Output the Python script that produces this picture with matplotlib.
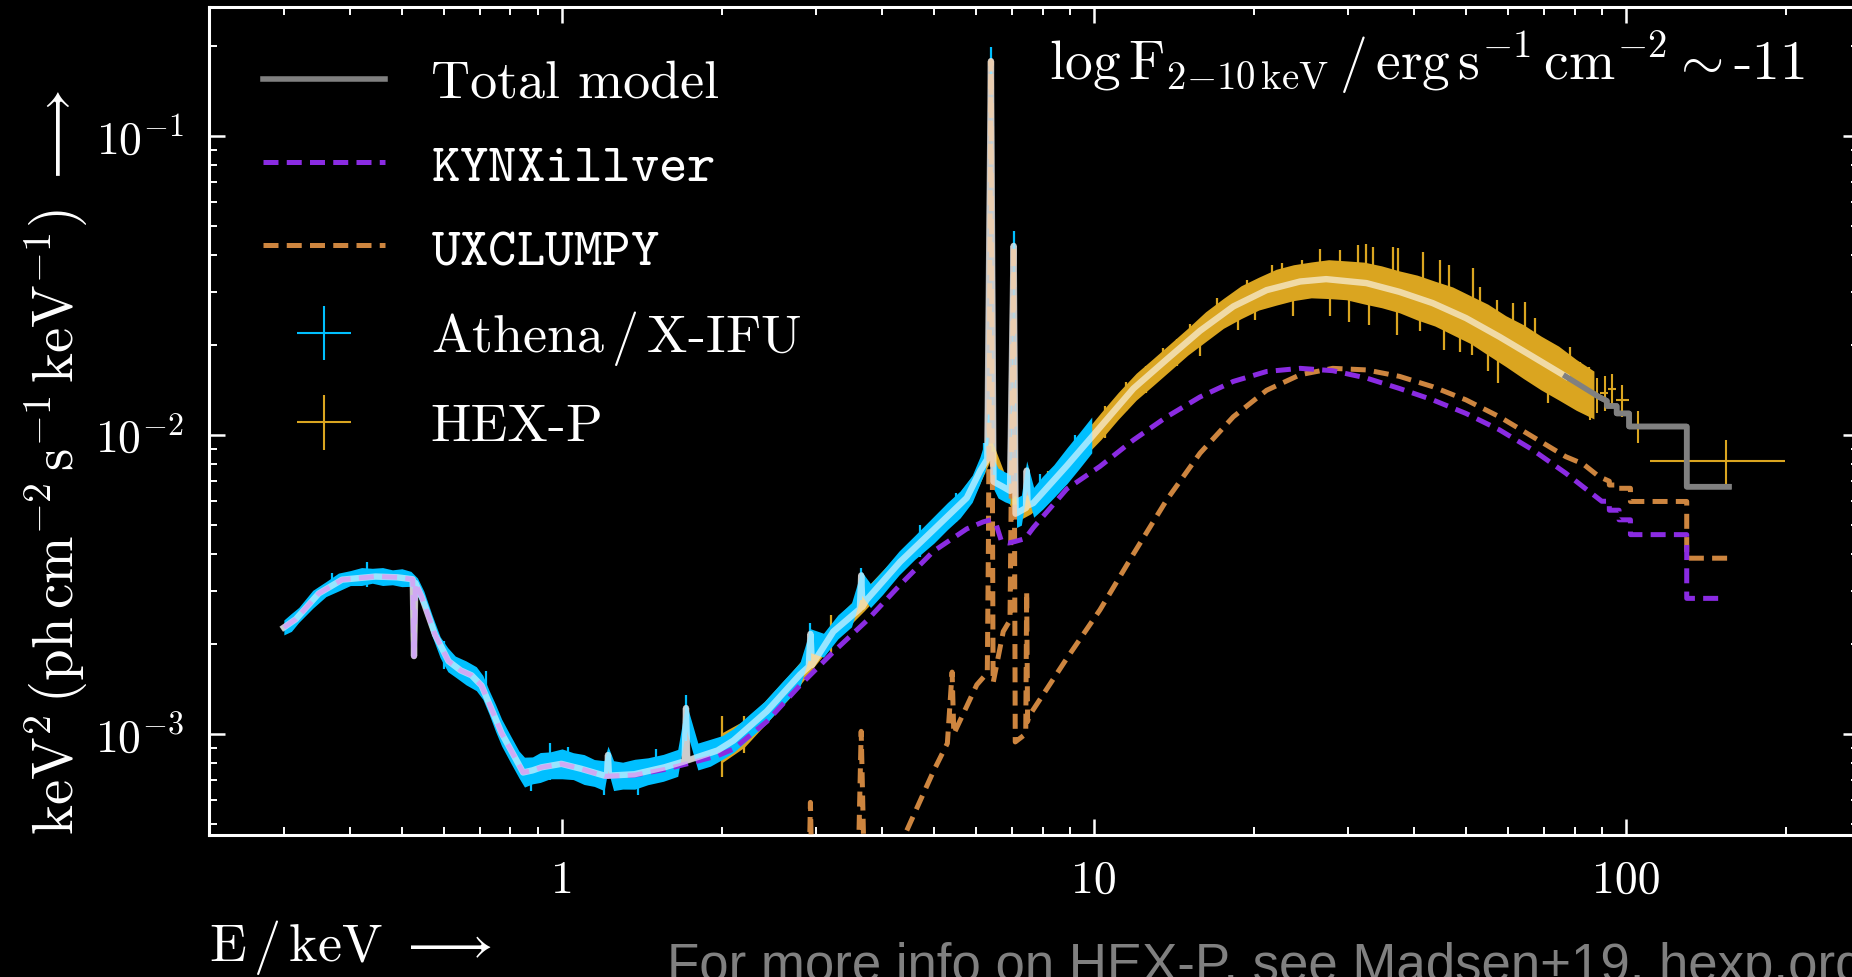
import numpy as np
import matplotlib
matplotlib.use('Agg')
import matplotlib.pyplot as plt

plt.rcParams['font.family'] = 'cmr10'
plt.rcParams['mathtext.fontset'] = 'cm'
plt.rcParams['axes.unicode_minus'] = False

# total model (keV, keV^2 ph cm^-2 s^-1 keV^-1)
tot_E = [0.300, 0.316, 0.349, 0.386, 0.446, 0.490, 0.524, 0.527, 0.530, 0.545, 0.577, 0.612,
         0.645, 0.676, 0.706, 0.737, 0.770, 0.815, 0.845, 0.880, 0.915, 0.997, 1.087, 1.202,
         1.215, 1.22, 1.225, 1.368, 1.557, 1.70, 1.71, 1.72, 1.96, 2.10, 2.426, 2.802, 2.91,
         2.93, 2.95, 3.236, 3.63, 3.65, 3.67, 3.738, 4.318, 4.989, 5.764, 6.107, 6.30, 6.40,
         6.47, 6.75, 6.95, 7.06, 7.12, 7.45, 7.47, 7.50, 7.69, 8.89, 10.26, 11.86, 13.70,
         15.82, 18.27, 21.1, 24.4, 27.3, 32.5, 37.5, 43.3, 50.0, 57.8, 66.7, 77.0, 88.9,
         92.0, 92.0, 96.0, 96.0, 101.3, 101.3, 130.0, 130.0, 156.0]
tot_F = [2.27e-3, 2.42e-3, 2.95e-3, 3.28e-3, 3.36e-3, 3.34e-3, 3.29e-3, 1.82e-3, 3.20e-3,
         2.87e-3, 2.15e-3, 1.75e-3, 1.63e-3, 1.57e-3, 1.45e-3, 1.21e-3, 1.005e-3, 8.36e-4,
         7.43e-4, 7.55e-4, 7.73e-4, 7.94e-4, 7.64e-4, 7.25e-4, 7.25e-4, 8.5e-4, 7.25e-4,
         7.33e-4, 7.73e-4, 8.1e-4, 1.22e-3, 8.15e-4, 8.8e-4, 9.5e-4, 1.19e-3, 1.58e-3,
         1.68e-3, 2.16e-3, 1.70e-3, 2.20e-3, 2.62e-3, 3.39e-3, 2.66e-3, 2.81e-3, 3.76e-3,
         4.81e-3, 6.16e-3, 7.58e-3, 8.3e-3, 0.178, 6.98e-3, 6.70e-3, 6.5e-3, 0.0429, 5.45e-3,
         5.7e-3, 7.6e-3, 5.8e-3, 5.92e-3, 7.89e-3, 1.06e-2, 1.43e-2, 1.79e-2, 2.23e-2, 2.69e-2,
         3.05e-2, 3.26e-2, 3.32e-2, 3.22e-2, 3.01e-2, 2.76e-2, 2.46e-2, 2.13e-2, 1.83e-2,
         1.57e-2, 1.34e-2, 1.30e-2, 1.25e-2, 1.25e-2, 1.18e-2, 1.18e-2, 1.067e-2, 1.067e-2,
         6.71e-3, 6.71e-3]

# KYNXillver component
kyn_E = [0.300, 0.316, 0.349, 0.386, 0.446, 0.490, 0.524, 0.527, 0.530, 0.545, 0.577, 0.612,
         0.645, 0.676, 0.706, 0.737, 0.770, 0.815, 0.845, 0.880, 0.915, 0.997, 1.087, 1.202,
         1.368, 1.557, 1.747, 1.96, 2.10, 2.426, 2.802, 3.236, 3.738, 4.318, 4.989, 5.764,
         6.19, 6.40, 6.55, 6.70, 6.90, 7.10, 7.42, 7.69, 8.89, 10.26, 11.86, 13.70, 15.82,
         18.27, 21.1, 24.4, 28.1, 32.5, 37.5, 43.3, 50.0, 57.8, 66.7, 77.0, 83.0, 90.0, 93.0,
         93.0, 97.0, 97.0, 101.9, 101.9, 130.0, 130.0, 153.0]
kyn_F = [2.27e-3, 2.42e-3, 2.95e-3, 3.28e-3, 3.36e-3, 3.34e-3, 3.29e-3, 1.82e-3, 3.20e-3,
         2.87e-3, 2.15e-3, 1.75e-3, 1.63e-3, 1.57e-3, 1.45e-3, 1.21e-3, 1.005e-3, 8.36e-4,
         7.43e-4, 7.55e-4, 7.73e-4, 7.94e-4, 7.64e-4, 7.22e-4, 7.28e-4, 7.6e-4, 8.0e-4,
         8.45e-4, 8.9e-4, 1.10e-3, 1.455e-3, 1.88e-3, 2.39e-3, 3.15e-3, 4.08e-3, 4.85e-3,
         5.12e-3, 5.2e-3, 5.0e-3, 4.4e-3, 4.35e-3, 4.4e-3, 4.5e-3, 4.9e-3, 6.6e-3, 7.85e-3,
         9.62e-3, 1.15e-2, 1.34e-2, 1.51e-2, 1.63e-2, 1.67e-2, 1.64e-2, 1.55e-2, 1.43e-2,
         1.31e-2, 1.18e-2, 1.04e-2, 8.92e-3, 7.45e-3, 6.71e-3, 6.0e-3, 6.0e-3, 5.6e-3, 5.6e-3,
         5.2e-3, 5.2e-3, 4.64e-3, 4.64e-3, 2.84e-3, 2.84e-3]

# UXCLUMPY component
uxc_E = [2.50, 2.90, 2.93, 2.96, 3.60, 3.65, 3.70, 4.41, 4.99, 5.30, 5.41, 5.45, 6.02, 6.30,
         6.33, 6.40, 6.46, 6.75, 6.95, 7.06, 7.11, 7.44, 7.47, 7.50, 7.53, 8.89, 10.26, 11.86,
         13.70, 15.82, 18.27, 21.1, 24.4, 28.1, 32.5, 37.5, 43.3, 50.0, 57.8, 66.7, 77.0, 83.0,
         88.9, 93.0, 93.0, 97.0, 97.0, 101.9, 101.9, 130.0, 130.0, 155.0]
uxc_F = [1.8e-4, 2.3e-4, 5.9e-4, 2.4e-4, 3.3e-4, 1.02e-3, 3.4e-4, 4.6e-4, 7.5e-4, 9.3e-4,
         1.61e-3, 1.0e-3, 1.46e-3, 1.6e-3, 4.3e-3, 0.178, 1.48e-3, 2.2e-3, 2.4e-3, 0.0429,
         9.4e-4, 1.0e-3, 3.0e-3, 1.1e-3, 1.14e-3, 1.79e-3, 2.6e-3, 4.0e-3, 6.07e-3, 8.69e-3,
         1.15e-2, 1.41e-2, 1.59e-2, 1.67e-2, 1.65e-2, 1.57e-2, 1.45e-2, 1.31e-2, 1.15e-2,
         9.87e-3, 8.46e-3, 8.0e-3, 7.26e-3, 7.0e-3, 6.8e-3, 6.8e-3, 6.63e-3, 6.63e-3, 5.99e-3,
         5.99e-3, 3.87e-3, 3.87e-3]

# Athena / X-IFU data: value and error half-width (dex)
ath_E = [0.30, 0.31, 0.32, 0.34, 0.36, 0.38, 0.40, 0.42, 0.44, 0.46, 0.48, 0.50, 0.52, 0.535,
         0.55, 0.57, 0.59, 0.61, 0.63, 0.66, 0.69, 0.71, 0.73, 0.75, 0.77, 0.80, 0.83, 0.85,
         0.88, 0.91, 0.95, 1.0, 1.05, 1.1, 1.15, 1.2, 1.22, 1.25, 1.3, 1.37, 1.45, 1.55, 1.65,
         1.71, 1.8, 1.9, 2.0, 2.1, 2.25, 2.4, 2.6, 2.8, 2.93, 3.1, 3.3, 3.5, 3.65, 3.8, 4.0,
         4.3, 4.6, 5.0, 5.3, 5.6, 5.9, 6.1, 6.25, 6.35, 6.40, 6.45, 6.6, 6.8, 6.95, 7.06, 7.15,
         7.3, 7.47, 7.7, 8.0, 8.4, 8.9, 9.4, 9.9]
ath_F = [2.27e-3, 2.36e-3, 2.50e-3, 2.82e-3, 3.05e-3, 3.22e-3, 3.32e-3, 3.36e-3, 3.38e-3,
         3.36e-3, 3.34e-3, 3.33e-3, 3.30e-3, 3.1e-3, 2.8e-3, 2.3e-3, 1.95e-3, 1.77e-3, 1.68e-3,
         1.60e-3, 1.53e-3, 1.43e-3, 1.27e-3, 1.13e-3, 1.01e-3, 8.9e-4, 7.9e-4, 7.45e-4,
         7.55e-4, 7.72e-4, 7.85e-4, 7.94e-4, 7.8e-4, 7.6e-4, 7.4e-4, 7.25e-4, 8.3e-4, 7.25e-4,
         7.25e-4, 7.33e-4, 7.5e-4, 7.7e-4, 8.0e-4, 1.15e-3, 8.4e-4, 8.65e-4, 9.0e-4, 9.5e-4,
         1.06e-3, 1.17e-3, 1.37e-3, 1.58e-3, 2.05e-3, 1.98e-3, 2.28e-3, 2.5e-3, 3.2e-3, 2.9e-3,
         3.2e-3, 3.73e-3, 4.2e-3, 4.82e-3, 5.35e-3, 5.85e-3, 6.6e-3, 7.6e-3, 8.6e-3, 1.2e-2,
         0.175, 7.5e-3, 6.9e-3, 6.7e-3, 6.6e-3, 0.042, 5.5e-3, 5.6e-3, 7.3e-3, 5.95e-3, 6.4e-3,
         7.0e-3, 7.9e-3, 8.9e-3, 1.0e-2]
ath_err = [0.025, 0.03, 0.025, 0.03, 0.025, 0.03, 0.025, 0.03, 0.025, 0.03, 0.025, 0.03, 0.025,
           0.03, 0.03, 0.035, 0.035, 0.04, 0.035, 0.04, 0.04, 0.04, 0.04, 0.045, 0.045, 0.045,
           0.045, 0.05, 0.045, 0.05, 0.045, 0.05, 0.045, 0.05, 0.045, 0.05, 0.04, 0.05, 0.045,
           0.05, 0.045, 0.045, 0.045, 0.045, 0.045, 0.045, 0.04, 0.04, 0.04, 0.04, 0.04, 0.04,
           0.04, 0.04, 0.04, 0.04, 0.04, 0.04, 0.04, 0.04, 0.04, 0.045, 0.045, 0.045, 0.045,
           0.045, 0.05, 0.05, 0.05, 0.05, 0.05, 0.05, 0.05, 0.05, 0.05, 0.05, 0.05, 0.05, 0.055,
           0.055, 0.06, 0.06, 0.06]

# single Athena bins sticking out of the band (E, low, high)
athspk_E = [0.37, 0.43, 0.60, 0.72, 0.876, 0.95, 1.026, 1.2, 1.388, 1.5, 1.71, 2.93, 3.65,
            4.7, 5.5, 6.2, 6.40, 7.06, 7.9, 9.2]
athspk_lo = [2.95e-3, 3.1e-3, 1.65e-3, 1.3e-3, 6.45e-4, 7.0e-4, 7.4e-4, 6.27e-4, 6.27e-4,
             7.0e-4, 9.5e-4, 1.75e-3, 2.8e-3, 3.9e-3, 5.1e-3, 7.4e-3, 0.16, 0.038, 5.7e-3, 7.8e-3]
athspk_hi = [3.45e-3, 3.75e-3, 2.05e-3, 1.62e-3, 8.0e-4, 9.3e-4, 9.06e-4, 7.8e-4, 8.2e-4,
             8.9e-4, 1.35e-3, 2.35e-3, 3.6e-3, 5.0e-3, 6.4e-3, 9.4e-3, 0.199, 0.048, 7.4e-3, 1.0e-2]

# HEX-P data: value and error half-width (dex)
hex_E = [2.0, 2.2, 2.4, 2.7, 3.0, 3.3, 3.7, 4.1, 4.5, 5.0, 5.5, 6.0, 6.4, 6.8, 7.2, 7.6, 8.2,
         8.9, 9.6, 10.3, 11.1, 12.0, 12.9, 13.9, 15.0, 16.2, 17.5, 18.9, 20.4, 22.0, 23.7, 25.6,
         27.6, 29.8, 32.2, 34.7, 37.5, 40.5, 43.7, 47.2, 51.0, 55.0, 59.4, 64.1, 69.2, 74.7,
         80.6, 87.0]
hex_F = [9.0e-4, 1.0e-3, 1.17e-3, 1.47e-3, 1.85e-3, 2.28e-3, 2.8e-3, 3.4e-3, 4.05e-3, 4.8e-3,
         5.7e-3, 7.0e-3, 9.0e-3, 6.8e-3, 5.6e-3, 5.9e-3, 6.7e-3, 7.9e-3, 9.3e-3, 1.07e-2,
         1.25e-2, 1.45e-2, 1.62e-2, 1.82e-2, 2.05e-2, 2.3e-2, 2.55e-2, 2.78e-2, 2.97e-2,
         3.12e-2, 3.23e-2, 3.3e-2, 3.32e-2, 3.29e-2, 3.22e-2, 3.13e-2, 3.01e-2, 2.88e-2,
         2.75e-2, 2.6e-2, 2.43e-2, 2.25e-2, 2.06e-2, 1.9e-2, 1.74e-2, 1.61e-2, 1.47e-2, 1.36e-2]
hex_err = [0.05, 0.045, 0.04, 0.04, 0.035, 0.035, 0.035, 0.035, 0.035, 0.035, 0.035, 0.035,
           0.035, 0.035, 0.035, 0.035, 0.04, 0.04, 0.04, 0.045, 0.045, 0.045, 0.045, 0.045,
           0.045, 0.05, 0.05, 0.055, 0.055, 0.06, 0.06, 0.06, 0.065, 0.065, 0.07, 0.07, 0.07,
           0.075, 0.075, 0.08, 0.08, 0.085, 0.085, 0.09, 0.09, 0.09, 0.085, 0.08]

# single HEX-P bins sticking out of the band (E, low, high)
hexspk_E = [2.0, 2.2, 3.2, 8.2, 9.0, 10.5, 11.5, 12.5, 13.5, 14.3,
            15.15, 17.01, 19.36, 21.58, 22.53, 24.57, 26.6, 29.0, 31.4, 32.5, 33.5, 36.5, 37.3,
            41.6, 44.7, 46.4, 51.5, 53.2, 57.1, 61.4, 64.6, 67.5, 73.0, 78.5, 81.9, 85.0,
            15.82, 18.67, 20.07, 23.7, 27.8, 30.1, 32.9, 37.1, 41.0, 45.4, 48.8, 51.3, 55.1,
            57.5, 62.3, 67.9, 71.4, 79.6, 85.5]
hexspk_lo = [7.2e-4, 8.6e-4, 1.85e-3, 6.0e-3, 7.2e-3, 9.8e-3, 1.2e-2, 1.38e-2, 1.58e-2, 1.7e-2,
             0.0213, 0.0245, 0.0285, 0.0307, 0.0315, 0.0326, 0.0331, 0.0330, 0.0325, 0.0322,
             0.0318, 0.0305, 0.0302, 0.0283, 0.0269, 0.0262, 0.0240, 0.0233, 0.0216, 0.0200,
             0.0189, 0.0180, 0.0166, 0.0154, 0.0147, 0.0140,
             0.0183, 0.0224, 0.0242, 0.0249, 0.0249, 0.0239, 0.0233, 0.0216, 0.0222, 0.0193,
             0.0190, 0.0185, 0.0163, 0.0149, 0.0174, 0.0153, 0.0128, 0.0126, 0.0115]
hexspk_hi = [1.15e-3, 1.15e-3, 2.5e-3, 7.6e-3, 9.0e-3, 1.25e-2, 1.5e-2, 1.7e-2, 1.95e-2, 2.1e-2,
             0.0235, 0.02865, 0.0330, 0.0370, 0.0375, 0.0385, 0.0418, 0.0414, 0.0432, 0.0435,
             0.0426, 0.0426, 0.0421, 0.0410, 0.0385, 0.0370, 0.0361, 0.0313, 0.0283, 0.0276,
             0.0279, 0.0246, 0.0200, 0.0197, 0.0176, 0.0169,
             0.0223, 0.0272, 0.0295, 0.0322, 0.0332, 0.0328, 0.0321, 0.0303, 0.0286, 0.0266,
             0.0252, 0.0241, 0.0224, 0.0214, 0.0197, 0.0179, 0.0170, 0.0152, 0.0139]

# HEX-P high-energy bins
hexpt_E = [85.5, 88.0, 91.1, 94.2, 98.3, 105.2, 154.3]
hexpt_F = [1.29e-2, 1.36e-2, 1.38e-2, 1.42e-2, 1.31e-2, 1.067e-2, 8.18e-3]
hexpt_Elo = [84.3, 86.8, 89.5, 92.6, 95.8, 101.3, 111.0]
hexpt_Ehi = [86.8, 89.5, 92.6, 95.8, 101.3, 111.0, 198.5]
hexpt_lo = [1.12e-2, 1.18e-2, 1.20e-2, 1.25e-2, 1.15e-2, 9.38e-3, 6.71e-3]
hexpt_hi = [1.45e-2, 1.55e-2, 1.57e-2, 1.60e-2, 1.47e-2, 1.20e-2, 9.62e-3]

c_ath = 'deepskyblue'
c_hex = 'goldenrod'
c_kyn = 'blueviolet'
c_uxc = 'peru'
c_tot = 'gray'

tot_E = np.array(tot_E); tot_F = np.array(tot_F)
ath_E = np.array(ath_E); ath_F = np.array(ath_F); ath_err = np.array(ath_err)
hex_E = np.array(hex_E); hex_F = np.array(hex_F); hex_err = np.array(hex_err)

fig = plt.figure(figsize=(18.52, 9.77), dpi=100, facecolor='black')
ax = fig.add_axes([209/1852, 1-835/977, 1650/1852, 828/977], facecolor='black')
ax.set_xscale('log')
ax.set_yscale('log')

# model underneath the data
ax.plot(tot_E, tot_F, color=c_tot, lw=4, zorder=2)

# HEX-P
ax.fill_between(hex_E, hex_F/10**hex_err, hex_F*10**hex_err, color=c_hex, lw=0, zorder=3)
ax.vlines(hexspk_E, hexspk_lo, hexspk_hi, color=c_hex, lw=1.6, zorder=3)
hx = ax.errorbar(hexpt_E, hexpt_F,
                 xerr=[np.array(hexpt_E)-np.array(hexpt_Elo), np.array(hexpt_Ehi)-np.array(hexpt_E)],
                 yerr=[np.array(hexpt_F)-np.array(hexpt_lo), np.array(hexpt_hi)-np.array(hexpt_F)],
                 fmt='none', ecolor=c_hex, elinewidth=1.5, zorder=5)

# Athena
ax.fill_between(ath_E, ath_F/10**ath_err, ath_F*10**ath_err, color=c_ath, lw=0, zorder=4)
ax.vlines(athspk_E, athspk_lo, athspk_hi, color=c_ath, lw=1.6, zorder=4)
at = ax.errorbar([], [], xerr=[], yerr=[], fmt='none', ecolor=c_ath, elinewidth=1.5)

# components
uxc, = ax.plot(uxc_E, uxc_F, color=c_uxc, lw=3.6, ls=(0, (3.0, 1.65)), zorder=5)
kyn, = ax.plot(kyn_E, kyn_F, color=c_kyn, lw=3.6, ls=(0, (3.0, 1.65)), zorder=5)

# model on top of the data
m = tot_E <= 77
ax.plot(tot_E[m], tot_F[m], color='white', alpha=0.6, lw=4.6, zorder=6)
m = tot_E >= 77
tot, = ax.plot(tot_E[m], tot_F[m], color=c_tot, lw=4, zorder=6)

ax.set_xlim(0.217, 274)
ax.set_ylim(4.59e-4, 0.270)
ax.set_xticks([1, 10, 100], ['1', '10', '100'])
ax.set_yticks([1e-3, 1e-2, 1e-1], [r'$10^{-3}$', r'$10^{-2}$', r'$10^{-1}$'])
ax.tick_params(which='both', direction='in', top=True, right=True, colors='white', labelsize=33)
ax.tick_params(which='major', length=11.5, width=1.8, pad=18)
ax.tick_params(which='minor', length=5.8, width=1.4)
for s in ax.spines.values():
    s.set_color('white')
    s.set_linewidth(2.2)

ax.set_xlabel(r'$\mathrm{E}\,/\,\mathrm{keV}\ \longrightarrow$', fontsize=39, color='white', loc='left')
ax.xaxis.set_label_coords(0, -0.10)
ax.set_ylabel(r'$\mathrm{keV}^2\,(\mathrm{ph\,cm^{-2}\,s^{-1}\,keV^{-1}})\ \longrightarrow$',
              fontsize=41, color='white', loc='bottom')
ax.yaxis.set_label_coords(-0.073, 0)

ax.text(0.967, 0.912,
        r'$\log\mathrm{F}_{2{-}10\,\mathrm{keV}}\,/\,\mathrm{erg\,s^{-1}\,cm^{-2}}\sim$-11',
        transform=ax.transAxes, ha='right', va='baseline', fontsize=40, color='white')

leg = ax.legend([tot, kyn, uxc, at, hx],
                ['Total model', r'$\mathtt{KYNXillver}$', r'$\mathtt{UXCLUMPY}$',
                 r'Athena$\,/\,$X-IFU', 'HEX-P'],
                loc='upper left', bbox_to_anchor=(0.003, 0.995), fontsize=39, frameon=False,
                labelcolor='white', labelspacing=0.65, handlelength=2.25, handletextpad=0.85)

fig.text(667/1852, -4/977, 'For more info on HEX-P, see Madsen+19, hexp.org',
         color='gray', fontsize=38, family='Liberation Sans', va='baseline')

fig.savefig('out.png', dpi=100, facecolor='black')
